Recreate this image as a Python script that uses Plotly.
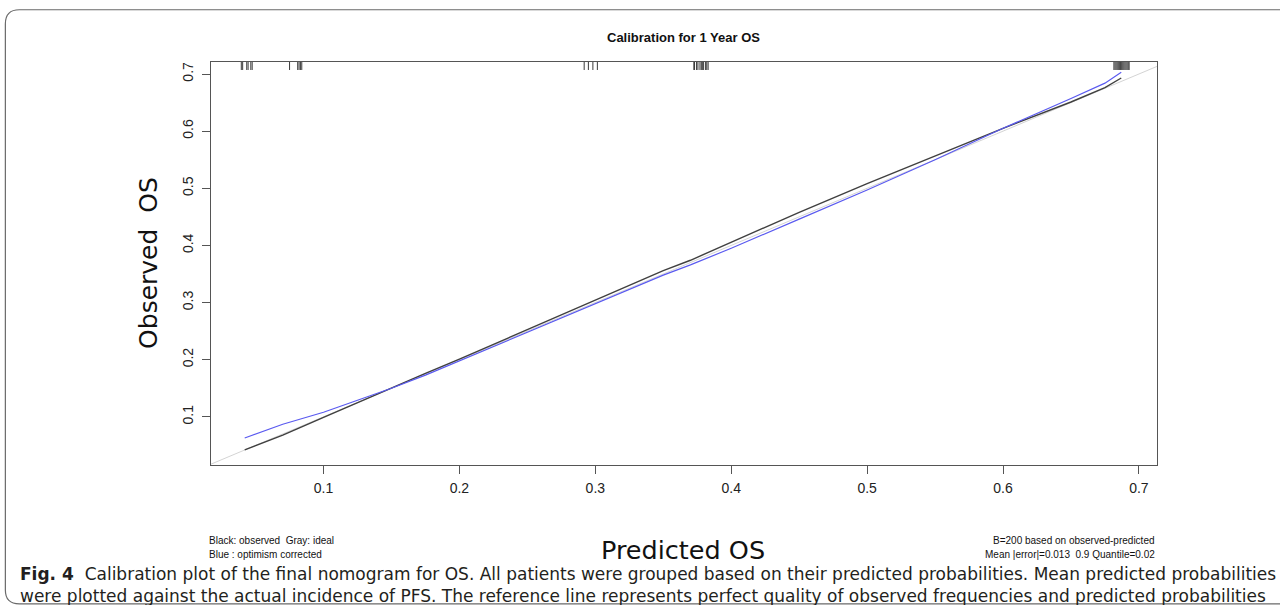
import plotly.graph_objects as go

# ---- data ----
pred_x = [0.042, 0.07, 0.1, 0.125, 0.15, 0.175, 0.2, 0.25, 0.3, 0.35, 0.37, 0.4,
          0.45, 0.5, 0.55, 0.6, 0.65, 0.675, 0.687]
observed = [0.042, 0.068, 0.099, 0.125, 0.150, 0.176, 0.201, 0.253, 0.304, 0.356,
            0.374, 0.406, 0.458, 0.508, 0.557, 0.605, 0.651, 0.676, 0.693]
corrected = [0.063, 0.087, 0.108, 0.129, 0.150, 0.173, 0.198, 0.247, 0.297, 0.348,
             0.366, 0.395, 0.446, 0.497, 0.550, 0.605, 0.657, 0.684, 0.703]
ideal = [0.0, 0.75]

rug_x = [0.0395, 0.0405, 0.0435, 0.0445, 0.0465, 0.0475,
         0.075, 0.081, 0.082, 0.083, 0.084,
         0.2918, 0.2949, 0.2982, 0.3015,
         0.3725, 0.373, 0.3745, 0.3755, 0.377, 0.378, 0.379, 0.3795, 0.381, 0.382, 0.383,
         0.6816, 0.6824, 0.6832, 0.684, 0.6848, 0.6856, 0.6865, 0.6873, 0.6881,
         0.6889, 0.6897, 0.6905, 0.6913, 0.6921, 0.6928]

tick_vals = [0.1, 0.2, 0.3, 0.4, 0.5, 0.6, 0.7]
tick_text = ["0.1", "0.2", "0.3", "0.4", "0.5", "0.6", "0.7"]

title_text = "Calibration for 1 Year OS"
x_title = "Predicted OS"
y_title = "Observed  OS"
legend_left = ["Black: observed  Gray: ideal", "Blue : optimism corrected"]
legend_right = ["B=200 based on observed-predicted", "Mean |error|=0.013  0.9 Quantile=0.02"]
caption_lines = [
    ("<b>Fig. 4</b>  Calibration plot of the final nomogram for OS. All patients were grouped "
     "based on their predicted probabilities. Mean predicted probabilities"),
    ("were plotted against the actual incidence of PFS. The reference line represents "
     "perfect quality of observed frequencies and predicted probabilities"),
]

# ---- layout geometry (pixels) ----
W_FIG, H_FIG = 1280, 605
L, R, T, B = 210.7, 1157.0, 62.3, 465.5
PW, PH = R - L, B - T


def px(xp):
    return (xp - L) / PW


def py(yp):
    return (B - yp) / PH


fig = go.Figure()

fig.add_trace(go.Scatter(x=ideal, y=ideal, mode="lines",
                         line=dict(color="#d4d4d4", width=1), showlegend=False,
                         hoverinfo="skip"))
fig.add_trace(go.Scatter(x=pred_x, y=observed, mode="lines",
                         line=dict(color="#404040", width=1.4), showlegend=False))
fig.add_trace(go.Scatter(x=pred_x, y=corrected, mode="lines",
                         line=dict(color="#5a5af0", width=1.2), showlegend=False))

shapes = []
for xv in rug_x:
    shapes.append(dict(type="line", xref="x", yref="paper", x0=xv, x1=xv,
                       y0=1.0, y1=1.0 - 8 / PH, line=dict(color="#3a3a3a", width=1)))

# rounded outer frame
x0, y0, x1, y1, r = 5, 10, 1290, 604.5, 14
path = (f"M {px(x0)},{py(y0 + r)} Q {px(x0)},{py(y0)} {px(x0 + r)},{py(y0)} "
        f"L {px(x1)},{py(y0)} L {px(x1)},{py(y1)} L {px(x0 + r)},{py(y1)} "
        f"Q {px(x0)},{py(y1)} {px(x0)},{py(y1 - r)} Z")
shapes.append(dict(type="path", xref="paper", yref="paper", path=path,
                   line=dict(color="#6a6a6a", width=1.2), fillcolor="rgba(0,0,0,0)",
                   layer="below"))


def note(text, x, y, xanchor="center", **kw):
    return dict(text=text, x=px(x), y=py(y), xref="paper", yref="paper",
                xanchor=xanchor, yanchor="middle", showarrow=False, **kw)


ann = [
    note(f"<b>{title_text}</b>", 683, 38,
         font=dict(family="Liberation Sans, Arial", size=13, color="#111")),
    note(x_title, 683, 551, font=dict(family="DejaVu Sans", size=25.5, color="#111")),
    note(y_title, 148, 263, textangle=-90,
         font=dict(family="DejaVu Sans", size=25, color="#111")),
]
for i, t in enumerate(legend_left):
    ann.append(note(t, 207, 541 + 14 * i, xanchor="left",
                    font=dict(family="Liberation Sans, Arial", size=10, color="#111")))
for i, t in enumerate(legend_right):
    ann.append(note(t, 1157, 541 + 14 * i, xanchor="right",
                    font=dict(family="Liberation Sans, Arial", size=10, color="#111")))
ann.append(note("<br>".join(caption_lines), 18, 585.5, xanchor="left", align="left",
                font=dict(family="DejaVu Sans", size=17, color="#231f20")))

axis_common = dict(showgrid=False, zeroline=False, showline=True, mirror=True,
                   linecolor="#555", linewidth=1, ticks="outside", ticklen=8,
                   tickcolor="#555", tickwidth=1, tickvals=tick_vals, ticktext=tick_text,
                   tickfont=dict(family="Liberation Sans, Arial", size=14, color="#222"))

fig.update_layout(
    width=W_FIG, height=H_FIG,
    margin=dict(l=L, r=W_FIG - R, t=T, b=H_FIG - B, pad=0),
    paper_bgcolor="white", plot_bgcolor="white",
    xaxis=dict(range=[0.0172, 0.7133], ticklabelstandoff=2, **axis_common),
    yaxis=dict(range=[0.0157, 0.721], tickangle=-90, ticklabelstandoff=3, **axis_common),
    shapes=shapes, annotations=ann, showlegend=False,
)

fig.write_html("out.html", config={"displayModeBar": False},
               post_script="document.body.style.margin='0px';")
